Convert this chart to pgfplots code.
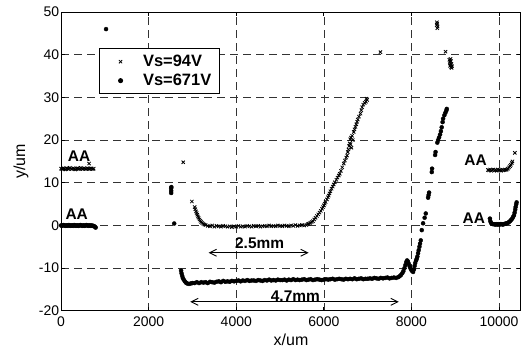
\documentclass[border=0pt]{standalone}
\usepackage{fontspec}
\setmainfont{Liberation Sans}
\usepackage{pgfplots}
\pgfplotsset{compat=1.18}
\usetikzlibrary{arrows.meta}
\pgfplotsset{mylegimg/.style={legend image code/.code={\path[draw=none,fill=none] (0bp,0bp) -- (30bp,0bp);\draw[only marks] plot coordinates {(15bp,0bp)};}}}
\begin{document}
\begin{tikzpicture}
\begin{axis}[
  scale only axis,
  width=459.5bp, height=298.5bp,
  xmin=0, xmax=10500, ymin=-20, ymax=50,
  xtick={0,2000,4000,6000,8000,10000},
  ytick={-20,-10,0,10,20,30,40,50},
  scaled x ticks=false,
  /pgf/number format/assume math mode=true,
  /pgf/number format/1000 sep={},
  tick label style={font=\fontsize{14}{16}\selectfont},
  xticklabel style={yshift=-2.3bp},
  yticklabel style={xshift=1.5bp},
  tick align=inside,
  major tick length=4bp,
  axis line style={line width=1bp},
  every tick/.style={black, line width=0.8bp},
  grid=major,
  major grid style={dash pattern=on 8bp off 5bp, black!80, line width=0.75bp},
  xlabel={x/um}, ylabel={y/um},
  label style={font=\fontsize{16}{18}\selectfont},
  xlabel style={at={(axis description cs:0.5,-0.0985)}, anchor=center},
  ylabel style={at={(axis description cs:-0.087,0.5)}, anchor=center},
  legend cell align=left,
  legend style={at={(rel axis cs:0.0826,0.879)}, anchor=north west,
    draw=black, line width=1bp, font=\fontsize{16.5}{18}\bfseries,
    inner xsep=6bp, inner ysep=4bp, row sep=1bp, column sep=5bp,
    nodes={inner sep=2.5bp}},
]
\addplot[only marks, mylegimg, mark=x, mark size=2.3bp, mark options={line width=0.8bp}, black] coordinates {
(0,13.3)(25,13.2)(50,13.4)(75,13.3)(100,13.1)(125,13.4)(150,13.3)(175,13.2)(200,13.5)(225,13.3)
(250,13.2)(275,13.4)(300,13.3)(325,13.1)(350,13.3)(375,13.4)(400,13.2)(425,13.3)(450,13.5)(475,13.3)
(500,13.2)(525,13.4)(550,13.3)(575,13.2)(600,13.4)(625,13.3)(650,13.2)(675,13.4)(700,13.3)(725,13.2)(745,13.3)
(640,14.5)
(2789,14.8)(2987,5.6)
(3050,4.3)(3065,3.8)(3080,3.3)(3095,2.9)(3110,2.5)(3125,2.1)(3140,1.8)(3160,1.4)(3180,1.1)(3200,0.8)
(3225,0.55)(3250,0.35)(3275,0.2)(3300,0.1)
(3350,-0.1)(3400,-0.2)(3450,0.0)(3500,-0.3)(3550,-0.1)(3600,-0.2)(3650,-0.3)(3700,-0.1)(3750,-0.2)(3800,-0.3)
(3850,-0.2)(3900,-0.4)(3950,-0.2)(4000,-0.3)(4050,-0.1)(4100,-0.3)(4150,-0.2)(4200,-0.3)(4250,-0.1)(4300,-0.2)
(4350,-0.3)(4400,-0.1)(4450,-0.2)(4500,-0.1)(4550,-0.3)(4600,-0.2)(4650,-0.1)(4700,-0.2)(4750,0.0)(4800,-0.2)
(4850,-0.1)(4900,-0.2)(4950,0.0)(5000,-0.1)(5050,-0.2)(5100,0.0)(5150,-0.1)(5200,-0.2)(5250,0.0)(5300,-0.1)
(5350,0.1)(5400,-0.1)(5450,0.0)(5500,0.1)(5550,0.0)(5600,0.1)
(5630,0.3)(5660,0.4)(5690,0.6)(5720,0.8)(5750,1.0)(5780,1.4)(5810,1.8)(5840,2.2)(5870,2.6)(5900,3.0)
(5930,3.4)(5958,3.9)(5980,4.3)(6000,4.7)(6020,5.1)(6040,5.5)(6070,6.1)(6090,6.6)(6110,7.0)(6130,7.5)
(6150,8.0)(6175,8.6)(6202,9.1)(6225,9.6)(6250,10.1)(6286,10.7)(6310,11.2)(6340,11.7)(6362,12.1)(6390,12.8)
(6420,13.6)(6454,14.5)(6480,15.2)(6510,15.9)(6530,16.4)(6545,17.2)(6560,17.8)(6575,18.6)(6590,19.2)(6600,20.2)
(6610,19.0)(6620,20.6)(6630,18.2)(6645,21.0)(6660,20.0)(6682,21.9)(6700,22.5)(6720,23.1)(6740,23.7)(6758,24.3)
(6775,24.8)(6800,25.5)(6834,26.2)(6855,27.0)(6873,27.7)(6900,28.3)(6930,28.7)(6960,29.0)(6987,29.4)(6975,29.7)
(7291,40.6)
(8575,46.9)(8587,47.3)(8597,46.6)(8590,46.2)(8580,47.6)
(8777,40.7)
(8865,38.8)(8875,38.3)(8885,37.9)(8895,37.5)(8905,37.1)(8915,36.9)(8880,37.4)(8900,38.5)(8910,37.8)(8925,37.3)(8890,39.0)
(9745,13.0)(9770,12.9)(9795,13.1)(9820,12.8)(9845,13.0)(9870,13.1)(9895,12.9)(9920,13.0)(9945,12.8)(9970,13.1)
(9995,12.9)(10020,13.0)(10045,12.8)(10070,13.1)(10095,12.9)(10120,13.0)(10150,13.0)(10175,13.1)(10200,13.3)(10225,13.6)
(10250,13.9)(10270,14.2)(10290,14.6)(10305,15.0)
(10360,17.0)
};
\addlegendentry{Vs=94V}
\addplot[only marks, mylegimg, mark=*, mark size=2bp, black] coordinates {
(0,0.0)(20,-0.1)(40,0.0)(60,0.1)(80,0.0)(100,-0.1)(120,0.0)(140,0.0)(160,-0.1)(180,0.1)
(200,0.0)(220,-0.1)(240,0.0)(260,0.0)(280,-0.1)(300,0.1)(320,0.0)(340,-0.1)(360,0.0)(380,0.0)
(400,-0.1)(420,0.0)(440,0.1)(460,0.0)(480,-0.1)(500,0.0)(520,0.0)(540,-0.1)(560,0.0)(580,0.1)
(600,0.0)(620,-0.1)(640,0.0)(660,0.0)(680,-0.1)(700,0.0)(720,-0.1)(740,-0.1)(760,-0.2)(780,-0.4)(790,-0.5)
(1027,46.0)
(2514,7.6)(2514,8.1)(2514,8.7)(2518,9.0)
(2583,0.45)
(2740,-10.6)(2750,-11.2)(2765,-11.8)(2780,-12.3)(2800,-12.7)(2825,-13.1)(2850,-13.4)(2880,-13.6)(2920,-13.7)(2960,-13.6)(3000,-13.5)
(3050,-13.5)(3100,-13.3)(3150,-13.5)(3200,-13.3)(3250,-13.4)(3300,-13.3)(3350,-13.5)(3400,-13.2)(3450,-13.3)(3500,-13.4)
(3550,-13.2)(3600,-13.1)(3650,-13.3)(3700,-13.0)(3750,-13.2)(3800,-13.1)(3850,-13.2)(3900,-13.0)(3950,-13.1)(4000,-13.0)
(4050,-12.9)(4100,-13.1)(4150,-12.9)(4200,-13.0)(4250,-12.8)(4300,-13.0)(4350,-12.9)(4400,-12.9)(4450,-13.0)(4500,-12.8)
(4550,-12.9)(4600,-13.0)(4650,-12.8)(4700,-12.9)(4750,-12.7)(4800,-12.9)(4850,-12.8)(4900,-12.9)(4950,-12.7)(5000,-12.8)
(5050,-12.8)(5100,-12.7)(5150,-12.9)(5200,-12.7)(5250,-12.8)(5300,-12.6)(5350,-12.8)(5400,-12.7)(5450,-12.8)(5500,-12.7)
(5550,-12.6)(5600,-12.8)(5650,-12.7)(5700,-12.6)(5750,-12.8)(5800,-12.7)(5850,-12.6)(5900,-12.7)(5950,-12.8)(6000,-12.7)
(6050,-12.6)(6100,-12.7)(6150,-12.6)(6200,-12.5)(6250,-12.7)(6300,-12.6)(6350,-12.5)(6400,-12.6)(6450,-12.7)(6500,-12.5)
(6550,-12.6)(6600,-12.5)(6650,-12.6)(6700,-12.4)(6750,-12.6)(6800,-12.5)(6850,-12.4)(6900,-12.6)(6950,-12.5)(7000,-12.5)
(7050,-12.4)(7100,-12.5)(7150,-12.3)(7200,-12.4)(7250,-12.5)(7300,-12.3)(7350,-12.4)(7400,-12.3)(7450,-12.2)(7500,-12.4)
(7550,-12.3)(7600,-12.2)(7650,-12.3)(7700,-12.1)
(7730,-11.9)(7760,-11.6)(7790,-11.2)(7815,-10.7)(7840,-10.0)(7860,-9.3)(7880,-8.6)(7900,-8.2)(7915,-8.4)(7935,-8.9)
(7955,-9.5)(7975,-10.0)(7995,-10.4)(8015,-10.7)(8037,-10.9)(8055,-10.3)(8070,-9.5)(8085,-8.8)(8105,-8.2)(8120,-7.8)
(8135,-7.3)(8150,-6.5)(8165,-5.8)(8181,-5.0)(8195,-4.3)(8212,-3.5)(8235,-1.1)(8265,0.5)(8300,1.8)(8326,2.8)
(8379,6.5)(8390,7.1)(8402,7.7)(8463,12.5)(8470,13.3)(8539,16.5)(8550,17.2)(8590,19.4)(8607,20.0)(8630,20.6)
(8653,21.3)(8672,22.1)(8690,23.0)(8710,24.2)(8722,25.0)(8750,25.8)(8775,26.4)(8795,26.9)(8806,27.3)
(9790,1.6)(9800,1.0)(9815,0.6)(9835,0.4)(9860,0.3)(9885,0.3)(9910,0.2)(9935,0.3)(9960,0.2)(9985,0.3)
(10010,0.2)(10035,0.3)(10060,0.3)(10085,0.2)(10110,0.3)(10135,0.4)(10150,0.4)(10175,0.5)(10200,0.6)(10225,0.8)
(10250,1.0)(10275,1.3)(10300,1.6)(10320,2.0)(10340,2.4)(10355,3.0)(10368,3.7)(10377,4.3)(10390,4.9)(10400,5.4)
};
\addlegendentry{Vs=671V}
\begin{scope}[every node/.style={font=\fontsize{15.5}{17}\bfseries, inner sep=0pt}]
\node at (axis cs:411,16.3) {AA};
\node at (axis cs:358,2.6) {AA};
\node at (axis cs:9463,15.2) {AA};
\node at (axis cs:9425,1.8) {AA};
\node at (axis cs:4533,-4.2) {2.5mm};
\node at (axis cs:5349,-16.5) {4.7mm};
\end{scope}
\draw[{Straight Barb[length=7bp,width=7bp]}-{Straight Barb[length=7bp,width=7bp]}, line width=0.9bp] (axis cs:3367,-6.4) -- (axis cs:5653,-6.4);
\draw[{Straight Barb[length=7bp,width=7bp]}-{Straight Barb[length=7bp,width=7bp]}, line width=0.9bp] (axis cs:2949,-17.9) -- (axis cs:7710,-17.9);
\coordinate (bbll) at (rel axis cs:0,0);
\coordinate (bbur) at (rel axis cs:1,1);
\end{axis}
\pgfresetboundingbox
\path[use as bounding box] ([xshift=-61bp,yshift=-39.5bp]bbll) rectangle ([xshift=6bp,yshift=12bp]bbur);
\end{tikzpicture}
\end{document}
